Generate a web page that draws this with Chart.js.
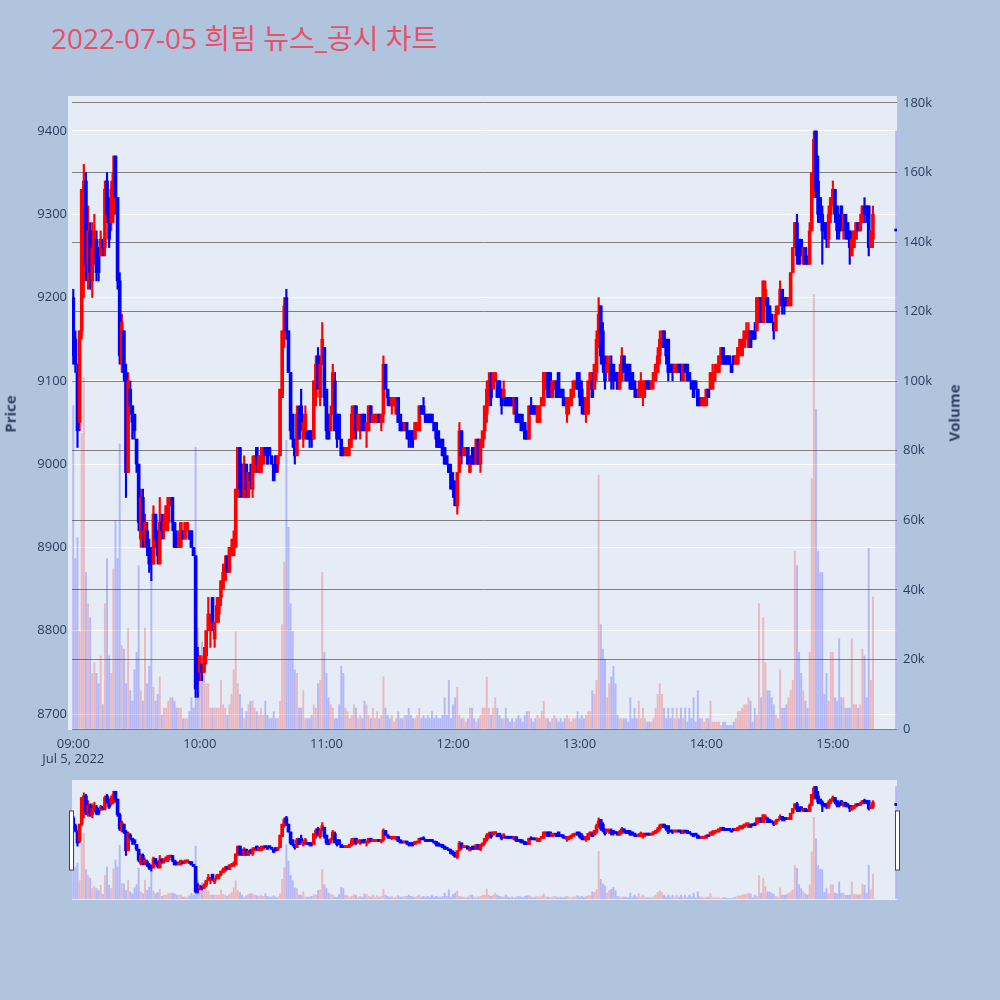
<!DOCTYPE html>
<html>
<head>
<meta charset="utf-8">
<script src="https://cdn.jsdelivr.net/npm/chart.js@4.4.0/dist/chart.umd.min.js"></script>
<style>
  html, body { margin: 0; padding: 0; width: 1000px; height: 1000px; overflow: hidden; background: #b0c4de; }
  #title { position: absolute; left: 51px; top: 24px; font-size: 28px; line-height: 28px; color: #e9506a;
           font-family: "Open Sans", "Noto Sans CJK KR", sans-serif; white-space: nowrap; }
  .axtitle { position: absolute; font: bold 15px "Open Sans", sans-serif; color: #2a3f5f; white-space: nowrap;
             transform: rotate(-90deg); }
  #main { position: absolute; left: 0; top: 0; }
  #slider { position: absolute; left: 0; top: 780px; }
</style>
</head>
<body>
<div id="title">2022-07-05 희림 뉴스_공시 차트</div>
<canvas id="main" width="1000" height="775"></canvas>
<canvas id="slider" width="1000" height="120"></canvas>
<div class="axtitle" id="priceTitle">Price</div>
<div class="axtitle" id="volTitle">Volume</div>
<script>
// 1분봉 09:00 ~ 15:19, 마지막 값은 15:30 동시호가
const closeAuctionMinute = 390;
const hourTicks = [0, 60, 120, 180, 240, 300, 360];
const hourLabels = ['09:00', '10:00', '11:00', '12:00', '13:00', '14:00', '15:00'];
const priceTicks = [8700, 8800, 8900, 9000, 9100, 9200, 9300, 9400];
const volumeTicks = [0, 20000, 40000, 60000, 80000, 100000, 120000, 140000, 160000, 180000];

const opens = [
  9200,9150,9110,9050,9160,9250,9340,9240,9280,9220, 9250,9270,9260,9250,9270,9260,9340,9300,9290,9300,
  9370,9320,9220,9120,9160,9110,8990,9090,9070,9060, 9030,9000,8910,8960,8910,8920,8900,8890,8880,8940,
  8920,8880,8930,8920,8920,8930,8950,8960,8930,8910, 8900,8900,8920,8910,8920,8920,8920,8900,8890,8770,
  8750,8760,8750,8770,8800,8800,8840,8790,8810,8820, 8840,8850,8860,8890,8870,8890,8890,8900,8970,9020,
  9000,8960,9000,8960,8990,8970,8990,9020,8990,8990, 9000,9020,9020,9020,9010,9000,9010,9000,9010,9080,
  9150,9200,9160,9110,9060,9030,9010,9060,9070,9030, 9040,9040,9040,9040,9030,9080,9130,9080,9120,9140,
  9090,9060,9040,9060,9100,9060,9060,9030,9020,9010, 9010,9020,9030,9040,9070,9040,9040,9060,9060,9040,
  9040,9070,9050,9050,9050,9060,9050,9060,9120,9090, 9080,9070,9070,9060,9080,9060,9050,9040,9050,9040,
  9040,9040,9030,9040,9040,9070,9070,9060,9060,9060, 9060,9050,9050,9040,9030,9030,9020,9010,9000,8990,
  8980,8970,8950,8990,9040,9010,9010,9020,8990,9010, 9020,9000,9030,9000,9020,9040,9060,9080,9100,9090,
  9100,9100,9100,9090,9080,9080,9080,9080,9080,9060, 9080,9060,9060,9050,9050,9040,9030,9070,9070,9070,
  9050,9050,9070,9070,9090,9110,9110,9080,9090,9100, 9110,9090,9090,9080,9060,9070,9070,9080,9090,9110,
  9100,9090,9080,9060,9060,9090,9100,9090,9110,9150, 9190,9160,9120,9110,9110,9120,9120,9110,9110,9090,
  9100,9130,9120,9120,9110,9110,9100,9090,9080,9090, 9090,9090,9100,9100,9090,9100,9100,9110,9130,9140,
  9160,9150,9150,9120,9120,9110,9110,9120,9120,9100, 9120,9120,9110,9100,9100,9100,9090,9080,9070,9070,
  9070,9090,9090,9090,9100,9110,9110,9120,9140,9130, 9130,9130,9120,9130,9120,9120,9130,9130,9140,9150,
  9140,9160,9160,9160,9160,9170,9200,9170,9190,9200, 9190,9180,9170,9160,9180,9190,9210,9200,9200,9190,
  9190,9230,9260,9290,9270,9270,9240,9260,9250,9240, 9280,9330,9400,9340,9320,9300,9290,9290,9270,9300,
  9310,9330,9310,9290,9310,9280,9300,9290,9280,9250, 9260,9270,9290,9280,9290,9310,9310,9310,9260,9270,
  9280
];
const highs = [
  9210,9160,9120,9160,9330,9360,9350,9310,9290,9290, 9300,9280,9260,9280,9270,9340,9350,9320,9340,9370,
  9370,9320,9230,9180,9160,9120,9110,9100,9070,9060, 9030,9000,8970,8970,8940,8930,8910,8900,8950,8940,
  8920,8960,8940,8940,8950,8960,8960,8960,8930,8920, 8920,8930,8920,8930,8930,8920,8920,8900,8890,8780,
  8770,8760,8780,8800,8840,8820,8840,8810,8840,8840, 8860,8880,8890,8890,8900,8910,8920,8970,9020,9020,
  9000,9010,9000,8990,9000,9010,9010,9020,9010,9020, 9020,9020,9020,9020,9010,9000,9010,9010,9090,9160,
  9200,9210,9160,9110,9060,9030,9070,9070,9090,9060, 9070,9040,9040,9040,9100,9130,9140,9130,9170,9140,
  9090,9060,9070,9120,9110,9060,9060,9030,9020,9020, 9020,9030,9070,9070,9070,9060,9060,9060,9060,9050,
  9070,9070,9060,9060,9060,9060,9060,9130,9120,9090, 9080,9080,9080,9080,9080,9060,9050,9050,9050,9040,
  9040,9040,9050,9050,9070,9070,9080,9060,9060,9060, 9060,9050,9050,9040,9030,9030,9020,9010,9000,9000,
  8990,8980,8990,9050,9040,9020,9020,9020,9010,9020, 9020,9030,9030,9030,9040,9070,9100,9110,9110,9110,
  9110,9100,9100,9090,9100,9080,9080,9080,9080,9080, 9080,9060,9060,9060,9050,9040,9070,9080,9070,9070,
  9070,9070,9080,9110,9110,9110,9110,9100,9100,9100, 9110,9090,9090,9080,9080,9080,9090,9100,9100,9110,
  9110,9100,9080,9080,9100,9110,9110,9120,9160,9200, 9190,9170,9130,9130,9130,9130,9120,9110,9110,9120,
  9140,9130,9120,9120,9120,9110,9100,9090,9100,9110, 9100,9100,9100,9100,9100,9110,9120,9140,9160,9160,
  9160,9150,9150,9120,9120,9120,9120,9120,9120,9120, 9120,9120,9110,9100,9100,9100,9090,9080,9080,9080,
  9090,9090,9110,9120,9120,9120,9130,9140,9140,9130, 9130,9130,9120,9130,9130,9140,9150,9150,9160,9170,
  9170,9160,9160,9170,9200,9200,9200,9220,9220,9200, 9190,9180,9170,9190,9190,9220,9210,9200,9200,9200,
  9230,9260,9290,9300,9270,9270,9260,9260,9250,9290, 9350,9400,9400,9370,9320,9310,9290,9290,9310,9320,
  9340,9330,9310,9300,9310,9300,9300,9290,9280,9280, 9280,9290,9290,9300,9310,9320,9310,9310,9280,9310,
  9280
];
const lows = [
  9120,9110,9020,9040,9150,9200,9220,9210,9210,9200, 9240,9220,9220,9250,9250,9250,9290,9260,9280,9290,
  9300,9210,9120,9110,9100,8960,8990,9060,9030,9030, 8990,8920,8900,8900,8900,8890,8870,8860,8880,8900,
  8880,8880,8910,8910,8920,8920,8950,8920,8900,8900, 8900,8900,8910,8910,8920,8910,8900,8890,8720,8720,
  8740,8740,8750,8760,8800,8780,8800,8780,8810,8810, 8830,8850,8860,8870,8870,8890,8890,8900,8960,8960,
  8960,8960,8960,8960,8970,8960,8990,8990,8990,8990, 9000,9010,9000,9010,9000,8980,8990,8990,9010,9080,
  9140,9150,9110,9030,9020,9000,9010,9030,9040,9020, 9030,9030,9020,9020,9030,9070,9090,9070,9120,9070,
  9030,9030,9040,9060,9040,9020,9030,9010,9010,9010, 9010,9010,9020,9030,9030,9040,9030,9040,9040,9020,
  9040,9050,9050,9050,9050,9050,9040,9050,9090,9070, 9070,9060,9070,9060,9050,9040,9040,9040,9030,9020,
  9020,9020,9030,9040,9040,9060,9060,9050,9050,9050, 9050,9040,9020,9020,9020,9010,9000,9000,8990,8970,
  8960,8950,8940,8990,9000,9010,9010,9000,8990,9000, 9000,9000,9000,8990,9020,9030,9050,9070,9070,9090,
  9100,9080,9080,9060,9070,9070,9070,9070,9070,9060, 9050,9050,9040,9040,9030,9030,9030,9060,9060,9060,
  9050,9050,9070,9070,9090,9080,9080,9080,9090,9080, 9080,9080,9070,9070,9050,9060,9070,9080,9090,9090,
  9070,9060,9060,9050,9060,9090,9080,9090,9100,9140, 9120,9110,9090,9110,9100,9090,9090,9100,9090,9090,
  9100,9110,9100,9100,9090,9090,9080,9080,9080,9080, 9070,9080,9090,9090,9090,9090,9100,9110,9120,9140,
  9140,9120,9100,9110,9100,9110,9110,9110,9100,9100, 9110,9100,9100,9090,9080,9090,9070,9070,9070,9070,
  9070,9080,9090,9090,9100,9110,9110,9120,9120,9120, 9120,9120,9110,9120,9120,9120,9130,9130,9140,9150,
  9140,9140,9150,9150,9160,9170,9170,9170,9190,9170, 9170,9170,9150,9160,9180,9190,9180,9180,9190,9190,
  9190,9230,9260,9240,9240,9250,9240,9240,9240,9240, 9280,9320,9320,9290,9290,9240,9270,9260,9260,9290,
  9310,9290,9270,9270,9280,9270,9270,9270,9240,9250, 9260,9270,9280,9280,9290,9290,9290,9250,9260,9260,
  9280
];
const closes = [
  9130,9120,9040,9160,9330,9340,9240,9280,9230,9260, 9280,9230,9230,9270,9260,9330,9300,9270,9330,9350,
  9320,9220,9130,9170,9110,8990,9100,9070,9050,9040, 9000,8930,8960,8920,8930,8900,8880,8880,8940,8910,
  8890,8930,8920,8930,8950,8960,8960,8930,8900,8900, 8910,8930,8910,8930,8930,8910,8900,8890,8730,8740,
  8770,8750,8770,8800,8820,8810,8810,8810,8830,8840, 8860,8870,8880,8870,8900,8900,8910,8970,9020,8970,
  8970,9000,8970,8990,8980,9000,9010,9000,9010,9010, 9020,9010,9000,9010,9000,8980,8990,9010,9090,9160,
  9190,9160,9110,9040,9030,9010,9060,9030,9050,9050, 9060,9030,9030,9030,9100,9120,9090,9120,9150,9080,
  9040,9030,9060,9110,9040,9030,9030,9010,9010,9020, 9020,9030,9060,9070,9040,9060,9050,9040,9050,9050,
  9070,9050,9060,9060,9060,9050,9060,9120,9090,9080, 9070,9080,9080,9080,9050,9040,9040,9050,9040,9030,
  9030,9030,9050,9050,9070,9060,9060,9050,9050,9050, 9050,9040,9030,9020,9020,9010,9000,9000,8990,8970,
  8970,8950,8990,9040,9010,9020,9020,9000,9000,9000, 9000,9030,9000,9030,9040,9070,9090,9100,9080,9110,
  9110,9080,9090,9070,9090,9070,9070,9070,9070,9080, 9050,9050,9050,9040,9030,9030,9070,9060,9060,9060,
  9070,9070,9080,9110,9110,9080,9080,9100,9100,9080, 9080,9080,9080,9070,9080,9080,9090,9100,9100,9090,
  9080,9070,9060,9080,9100,9110,9080,9120,9150,9180, 9130,9120,9100,9120,9120,9100,9100,9100,9090,9110,
  9130,9110,9100,9100,9090,9090,9090,9080,9090,9100, 9100,9100,9090,9090,9100,9110,9120,9130,9150,9160,
  9140,9130,9110,9110,9110,9120,9120,9110,9110,9120, 9110,9100,9100,9090,9080,9090,9070,9070,9080,9080,
  9090,9080,9110,9110,9110,9120,9130,9140,9120,9120, 9120,9120,9110,9120,9130,9140,9150,9150,9160,9160,
  9160,9140,9150,9150,9200,9200,9170,9220,9210,9170, 9170,9170,9160,9180,9190,9210,9190,9190,9190,9200,
  9230,9260,9290,9250,9240,9250,9260,9240,9240,9280, 9350,9390,9330,9300,9300,9280,9280,9270,9300,9320,
  9330,9300,9280,9280,9290,9300,9280,9270,9260,9270, 9280,9290,9280,9290,9310,9300,9300,9260,9280,9300,
  9280
];
const volumes = [
  93000,49000,55000,28000,85000,101000,45000,36000,32000,16000, 19000,16000,13000,21000,7000,36000,49000,21000,16000,46000,
  60000,49000,82000,24000,23000,13000,29000,11000,8000,17000, 22000,47000,11000,8000,29000,13000,18000,43000,12000,8000,
  10000,15000,4000,6000,6000,8000,9000,9000,8000,6000, 6000,6000,3000,3000,3000,5000,9000,6000,81000,29000,
  21000,25000,17000,13000,13000,6000,6000,6000,6000,6000, 14000,7000,6000,4000,7000,10000,17000,28000,13000,10000,
  6000,3000,5000,7000,8000,8000,6000,5000,4000,6000, 4000,8000,4000,3000,3000,5000,3000,3000,8000,30000,
  48000,83000,58000,36000,28000,17000,16000,6000,6000,11000, 3000,3000,3000,4000,7000,6000,13000,14000,45000,22000,
  16000,9000,7000,6000,3000,3000,7000,18000,16000,6000, 5000,3000,4000,7000,6000,3000,4000,3000,8000,7000,
  4000,3000,6000,3000,5000,3000,4000,15000,6000,4000, 3000,4000,2000,3000,5000,3000,3000,4000,4000,6000,
  4000,3000,3000,4000,6000,3000,4000,3000,4000,3000, 5000,3000,4000,3000,3000,4000,9000,4000,14000,3000,
  7000,9000,12000,4000,3000,3000,2000,3000,6000,6000, 3000,2000,3000,4000,6000,6000,15000,6000,4000,6000,
  9000,6000,4000,3000,3000,6000,3000,2000,3000,2000, 3000,4000,3000,2000,4000,5000,5000,3000,2000,3000,
  4000,3000,5000,8000,3000,3000,2000,3000,4000,3000, 2000,3000,2000,3000,4000,3000,2000,3000,3000,5000,
  3000,4000,3000,4000,5000,5000,11000,10000,14000,73000, 30000,23000,20000,9000,13000,15000,18000,13000,4000,3000,
  3000,3000,3000,2000,9000,3000,6000,3000,8000,3000, 6000,3000,2000,2000,2000,3000,6000,10000,13000,10000,
  6000,3000,6000,3000,6000,3000,6000,3000,6000,3000, 6000,2000,6000,3000,9000,2000,11000,3000,3000,2000,
  3000,3000,8000,2000,2000,2000,2000,1000,2000,2000, 1000,1000,1000,2000,3000,5000,5000,6000,7000,7000,
  9000,8000,2000,6000,4000,36000,9000,32000,19000,11000, 11000,9000,7000,4000,3000,17000,6000,6000,7000,9000,
  11000,14000,51000,47000,22000,16000,11000,8000,6000,22000, 72000,125000,92000,51000,45000,45000,10000,16000,8000,22000,
  22000,9000,8000,26000,9000,9000,6000,6000,6000,26000, 7000,7000,6000,7000,23000,21000,9000,52000,14000,38000,
  172000
];

Chart.defaults.font.family = '"Open Sans", "Noto Sans CJK KR", sans-serif';
Chart.defaults.color = '#2a3f5f';

const nBars = closes.length;
const xs = closes.map((c, i) => i < nBars - 1 ? i : closeAuctionMinute);
const isUp = closes.map((c, i) => c > opens[i]);
const candleColor = isUp.map(u => u ? '#ff0000' : '#0000ff');
const volColor = isUp.map(u => u ? 'rgba(255,0,0,0.22)' : 'rgba(0,0,255,0.22)');

function makeDatasets(bodyW, wickW, volW) {
  return [
    {
      label: 'Volume', yAxisID: 'y2', order: 3, grouped: false,
      data: xs.map((x, i) => ({ x: x, y: volumes[i] })),
      backgroundColor: volColor, barThickness: volW
    },
    {
      label: 'wick', yAxisID: 'y', order: 2, grouped: false, minBarLength: 1,
      data: xs.map((x, i) => ({ x: x, y: [lows[i], highs[i]] })),
      backgroundColor: candleColor, barThickness: wickW
    },
    {
      label: 'body', yAxisID: 'y', order: 1, grouped: false, minBarLength: 2,
      data: xs.map((x, i) => ({ x: x, y: [Math.min(opens[i], closes[i]), Math.max(opens[i], closes[i])] })),
      backgroundColor: candleColor, barThickness: bodyW
    }
  ];
}

const plotBg = {
  id: 'plotBg',
  beforeDraw(chart, args, opts) {
    const a = chart.chartArea, ctx = chart.ctx;
    ctx.save();
    ctx.fillStyle = '#e5ecf6';
    ctx.fillRect(a.left - opts.extendLeft, a.top, a.right - a.left + opts.extendLeft, a.bottom - a.top + 1);
    ctx.restore();
  }
};

const X_MIN = -0.6, X_MAX = 390.4;
const Y_MIN = 8682, Y_MAX = 9442;
const V_MAX = 182000;

new Chart(document.getElementById('main'), {
  type: 'bar',
  data: { datasets: makeDatasets(3, 1.5, 1.3) },
  options: {
    responsive: false,
    animation: false,
    devicePixelRatio: 1,
    layout: { padding: { top: 96, left: 0, right: 0, bottom: 0 } },
    plugins: { legend: { display: false }, tooltip: { enabled: false }, plotBg: { extendLeft: 4 } },
    scales: {
      x: {
        type: 'linear', min: X_MIN, max: X_MAX, offset: false,
        grid: { display: false, drawTicks: false }, border: { display: false },
        afterBuildTicks: s => { s.ticks = hourTicks.map(v => ({ value: v })); },
        afterFit: s => { s.height = 46; },
        ticks: {
          autoSkip: false, maxRotation: 0, padding: 7, font: { size: 13 },
          callback: v => {
            const k = hourTicks.indexOf(v);
            if (k < 0) return '';
            return k === 0 ? [hourLabels[0], 'Jul 5, 2022'] : hourLabels[k];
          }
        }
      },
      y: {
        type: 'linear', position: 'left', min: Y_MIN, max: Y_MAX, z: -1,
        grid: { color: '#ffffff', lineWidth: 1, drawTicks: false }, border: { display: false },
        afterBuildTicks: s => { s.ticks = priceTicks.map(v => ({ value: v })); },
        afterFit: s => { s.width = 72; },
        ticks: { padding: 5, font: { size: 13 }, callback: v => String(v) }
      },
      y2: {
        type: 'linear', position: 'right', min: 0, max: V_MAX, z: 0,
        grid: { color: 'rgb(128,128,128)', lineWidth: 1, drawTicks: false }, border: { display: false },
        afterBuildTicks: s => { s.ticks = volumeTicks.map(v => ({ value: v })); },
        afterFit: s => { s.width = 103; },
        ticks: { padding: 6, font: { size: 13 }, callback: v => v === 0 ? '0' : (v / 1000) + 'k' }
      }
    }
  },
  plugins: [plotBg]
});

// 레인지 슬라이더 (축 없이 같은 데이터 축소 표시)
const sliderHandles = {
  id: 'sliderHandles',
  afterDraw(chart) {
    const a = chart.chartArea, ctx = chart.ctx;
    ctx.save();
    ctx.fillStyle = '#ffffff';
    ctx.strokeStyle = '#444444';
    ctx.lineWidth = 1;
    [a.left - 2.5, a.right - 1.5].forEach(x => {
      ctx.fillRect(x, 31, 4, 59);
      ctx.strokeRect(x, 31, 4, 59);
    });
    ctx.restore();
  }
};

new Chart(document.getElementById('slider'), {
  type: 'bar',
  data: { datasets: makeDatasets(3, 1.5, 1.3) },
  options: {
    responsive: false,
    animation: false,
    devicePixelRatio: 1,
    layout: { padding: { top: 0, left: 72, right: 103, bottom: 1 } },
    plugins: { legend: { display: false }, tooltip: { enabled: false }, plotBg: { extendLeft: 0 } },
    scales: {
      x: { type: 'linear', min: X_MIN, max: X_MAX, offset: false, display: false },
      y: { type: 'linear', min: Y_MIN, max: Y_MAX, display: false },
      y2: { type: 'linear', min: 0, max: V_MAX, display: false }
    }
  },
  plugins: [plotBg, sliderHandles]
});

function placeTitle(id, cx, cy) {
  const el = document.getElementById(id);
  el.style.left = (cx - el.offsetWidth / 2) + 'px';
  el.style.top = (cy - el.offsetHeight / 2) + 'px';
}
placeTitle('priceTitle', 9, 414);
placeTitle('volTitle', 953, 413);
</script>
</body>
</html>
